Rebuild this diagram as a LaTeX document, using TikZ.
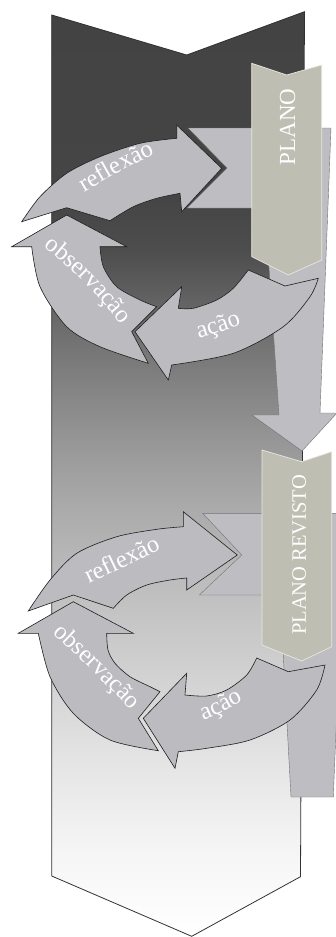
\documentclass[tikz,border=0pt]{standalone}
\usepackage{fontspec}
\setmainfont{Liberation Serif}
\usetikzlibrary{decorations.text}

\definecolor{arrowfill}{RGB}{187,187,192}
\definecolor{bendfill}{RGB}{189,189,194}
\definecolor{tagfill}{RGB}{190,190,178}
\definecolor{tagedge}{RGB}{232,232,224}
\definecolor{edgedark}{RGB}{30,30,30}
\definecolor{frameedge}{RGB}{50,50,50}

% dark at the top, fading to white towards the point at the bottom
\pgfdeclareverticalshading{bgshade}{100bp}{
  color(0bp)=(white);
  color(25bp)=(white);
  color(26.97bp)=(black!1.6);
  color(29.68bp)=(black!3.9);
  color(32.38bp)=(black!7.5);
  color(35.08bp)=(black!11.4);
  color(37.79bp)=(black!15.7);
  color(40.49bp)=(black!20);
  color(43.19bp)=(black!24.3);
  color(45.90bp)=(black!29);
  color(48.60bp)=(black!34);
  color(51.30bp)=(black!40);
  color(54.01bp)=(black!46.7);
  color(56.71bp)=(black!53.7);
  color(59.41bp)=(black!61.6);
  color(62.12bp)=(black!69.8);
  color(64.82bp)=(black!72.9);
  color(75bp)=(black!73.7);
  color(100bp)=(black!73.7)}

\newcommand\lblfont{\fontsize{24.5}{24.5}\selectfont\color{white}}

\tikzset{
  cyclearrow/.style={fill=arrowfill, draw=edgedark, line width=0.6pt, line join=miter},
  bendshape/.style={fill=bendfill, draw=black!55, line width=0.4pt},
  tagshape/.style={fill=tagfill, draw=tagedge, line width=0.7pt},
  tagtext/.style={text=white, inner sep=0pt, rotate=90},
  wordpath/.style={decorate, decoration={text along path, text={|\lblfont|#1}, text align=center}}
}

\begin{document}
\begin{tikzpicture}[x=1pt, y=-1pt]
\useasboundingbox (0,0) rectangle (336,937);
\clip (0,0) rectangle (336,937);

% background chevron
\shadedraw[shading=bgshade, draw=frameedge, line width=0.8pt]
  (51.7,15) -- (186.7,55) -- (304.5,11.7) -- (300.5,876.7) -- (191.7,936.3) -- (51.7,876) -- cycle;

% ---------- first cycle ----------
% bent arrow behind the tag, pointing down to the revised plan
\path[bendshape] (188,128) -- (331,128) -- (320,413) -- (337,413) -- (302,451)
  -- (252,415) -- (279,415) -- (265,208) -- (187,208) -- (227,168) -- cycle;

\path[tagshape] (251.7,63.3) -- (286.7,75) -- (321.7,65) -- (321.7,260)
  -- (288.3,275) -- (251.7,256.7) -- cycle;
\node[tagtext, font=\fontsize{23}{23}\selectfont] (plano) at (287.5,127) {PLANO};

% reflexão
\path[cyclearrow] (21.7,221.7) -- (66.7,207.7) -- (110,220.7)
  -- plot[smooth] coordinates {(110,220.7) (133.3,206.7) (156.7,198.3) (180,193.3)}
  -- (181.7,211.7) -- (221.7,168.3) -- (176.7,125) -- (176.7,138.3)
  -- plot[smooth] coordinates {(176.7,138.3) (140,143.3) (100,156.7) (66.7,173.3) (40,196.7) (21.7,221.7)}
  -- cycle;
% observação
\path[cyclearrow] (66.7,215) -- (126.7,246.7) -- (100,246.7)
  -- plot[smooth] coordinates {(100,246.7) (103.3,266.7) (116.7,286.7) (140,300) (156.7,306.7)}
  -- (131.7,331.7) -- (148.3,363.3)
  -- plot[smooth] coordinates {(148.3,363.3) (100,346.7) (66.7,326.7) (40,286.7) (31.7,246.7)}
  -- (11.7,246.7) -- cycle;
% ação
\path[cyclearrow] (135,331.7) -- (181.7,286.7) -- (178.3,308.3)
  -- plot[smooth] coordinates {(178.3,308.3) (193.3,308.3) (216.7,300) (233.3,288.3) (248.3,270)}
  -- (285,286) -- (318.3,278.3)
  -- plot[smooth] coordinates {(318.3,278.3) (310,296.7) (283.3,326.7) (233.3,353.3) (171.7,365)}
  -- (168.3,380) -- cycle;

\path[wordpath=reflexão] (70,201) .. controls (115,174) .. (170,146);
\path[wordpath=observação] (33,238) .. controls (81.9,277.1) .. (130,335);
\path[wordpath=ação] (185,343) .. controls (215,334) .. (255,320);

% ---------- second cycle ----------
\path[bendshape] (202.7,513.3) -- (345,513.3) -- (333.3,797) -- (291,797)
  -- (280,595) -- (199.3,595) -- (241.7,555) -- cycle;

\path[tagshape] (262,450) -- (301.7,461.7) -- (331.7,451.7) -- (331.7,646.7)
  -- (301.7,661) -- (262,645) -- cycle;
\node[tagtext, font=\fontsize{20.5}{20.5}\selectfont] (planorevisto) at (299.2,555) {PLANO REVISTO};

% reflexão
\path[cyclearrow] (28.3,611) -- (73.3,595) -- (113.3,608.3)
  -- plot[smooth] coordinates {(113.3,608.3) (126.7,595) (146.7,585) (170,580) (186.7,578)}
  -- (186.7,590) -- (237.3,555) -- (183.3,511.7) -- (183.3,526.7)
  -- plot[smooth] coordinates {(183.3,526.7) (156.7,529.3) (116.7,536.7) (76.7,553.3) (50,580) (28.3,611)}
  -- cycle;
% observação
\path[cyclearrow] (73.3,601.7) -- (133.3,633.3) -- (106.7,633.3)
  -- plot[smooth] coordinates {(106.7,633.3) (108,650) (115,663.3) (130,676.7) (150,686.7) (160,691.7)}
  -- (138.3,718.3) -- (158.3,750.7)
  -- plot[smooth] coordinates {(158.3,750.7) (110,740) (73.3,713.3) (50,676.7) (38.3,633.3)}
  -- (18.3,633.3) -- cycle;
% ação
\path[cyclearrow] (143.3,718.3) -- (186.7,673.3) -- (185,695)
  -- plot[smooth] coordinates {(185,695) (206.7,696) (226.7,690) (246.7,675) (256.7,658)}
  -- (288.3,671.7) -- (325,665)
  -- plot[smooth] coordinates {(325,665) (316.7,690) (290,720) (250,740) (206.7,748.3) (178.3,751.7)}
  -- (175,768.3) -- cycle;

\path[wordpath=reflexão] (78,589) .. controls (120,569) .. (172,544);
\path[wordpath=observação] (43,624) .. controls (97.9,675.6) .. (140,720);
\path[wordpath=ação] (190,726) .. controls (220,714) .. (256,694);
\end{tikzpicture}
\end{document}
